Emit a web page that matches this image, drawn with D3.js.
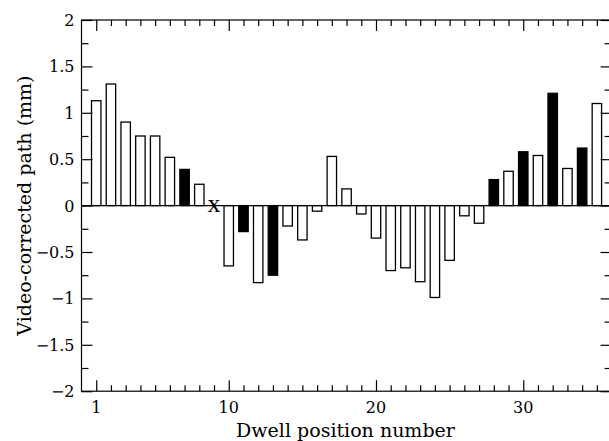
<!DOCTYPE html>
<html lang="en">
<head>
  <meta charset="UTF-8">
  <title>Video-corrected path</title>
  <style>
    body { margin: 0; background: #ffffff; }
    svg { display: block; }
    text { font-family: 'DejaVu Serif', serif; fill: #000; }
  </style>
  <script src="https://d3js.org/d3.v7.min.js"></script>
</head>
<body>
  <div id="chart"></div>
  <script>
    // dwell positions and measured path (mm); position 9 has no value (drawn as x)
    const positions = [1,2,3,4,5,6,7,8,9,10,11,12,13,14,15,16,17,18,19,20,21,22,23,24,25,26,27,28,29,30,31,32,33,34,35];
    const values = [1.13, 1.31, 0.90, 0.75, 0.75, 0.52, 0.39, 0.23, null, -0.65,
                    -0.28, -0.83, -0.75, -0.22, -0.37, -0.06, 0.53, 0.18, -0.09, -0.35,
                    -0.70, -0.67, -0.82, -0.99, -0.59, -0.11, -0.19, 0.28, 0.37, 0.58,
                    0.54, 1.21, 0.40, 0.62, 1.10];
    const filledPositions = [7, 11, 13, 28, 30, 32, 34];
    const missingPositions = [9];
    const xTickLabels = [1, 10, 20, 30];
    const yTickLabels = [2, 1.5, 1, 0.5, 0, -0.5, -1, -1.5, -2];

    const W = 609, H = 441;
    const M = { left: 81.5, right: -2.6, top: 20, bottom: 49.8 };

    const svg = d3.select('#chart').append('svg')
      .attr('width', W).attr('height', H);

    const x = d3.scaleLinear().domain([0, 36]).range([M.left, W - M.right]);
    const y = d3.scaleLinear().domain([-2, 2]).range([H - M.bottom, M.top]);

    const barW = 0.64 * (x(1) - x(0));
    const data = positions.map((p, i) => ({ p, v: values[i], filled: filledPositions.includes(p) }))
                          .filter(d => d.v !== null);

    // bars
    svg.append('g').selectAll('rect')
      .data(data).enter().append('rect')
      .attr('x', d => x(d.p) - barW / 2)
      .attr('width', barW)
      .attr('y', d => y(Math.max(0, d.v)))
      .attr('height', d => Math.abs(y(d.v) - y(0)))
      .attr('fill', d => d.filled ? '#000' : '#fff')
      .attr('stroke', '#000')
      .attr('stroke-width', 1.3);

    // zero line
    svg.append('line')
      .attr('x1', x(0)).attr('x2', x(36))
      .attr('y1', y(0)).attr('y2', y(0))
      .attr('stroke', '#000').attr('stroke-width', 1.3);

    // missing value marker
    svg.selectAll('.miss')
      .data(missingPositions).enter().append('text')
      .attr('class', 'miss')
      .attr('x', d => x(d))
      .attr('y', y(0) + 6.7)
      .attr('text-anchor', 'middle')
      .style('font-family', "'Liberation Serif', serif")
      .attr('font-size', 26)
      .text('x');

    // frame
    svg.append('rect')
      .attr('x', x(0)).attr('y', y(2))
      .attr('width', x(36) - x(0)).attr('height', y(-2) - y(2))
      .attr('fill', 'none').attr('stroke', '#000').attr('stroke-width', 1.2);

    const minorX = positions.filter(p => !xTickLabels.includes(p));
    const yMinor = d3.range(-1.75, 2, 0.5);
    const fmt = v => (v < 0 ? '\u2212' : '') + Math.abs(v);

    // axes: ticks drawn inward on all four sides
    const bottomAxis = (g, vals, len) => g.call(d3.axisBottom(x).tickValues(vals).tickSize(-len).tickFormat(''));
    const topAxis = (g, vals, len) => g.call(d3.axisTop(x).tickValues(vals).tickSize(-len).tickFormat(''));
    const leftAxis = (g, vals, len) => g.call(d3.axisLeft(y).tickValues(vals).tickSize(-len).tickFormat(''));
    const rightAxis = (g, vals, len) => g.call(d3.axisRight(y).tickValues(vals).tickSize(-len).tickFormat(''));

    const axes = svg.append('g');
    axes.append('g').attr('transform', `translate(0,${y(-2)})`).call(bottomAxis, xTickLabels, 11);
    axes.append('g').attr('transform', `translate(0,${y(-2)})`).call(bottomAxis, minorX, 6);
    axes.append('g').attr('transform', `translate(0,${y(2)})`).call(topAxis, xTickLabels, 11);
    axes.append('g').attr('transform', `translate(0,${y(2)})`).call(topAxis, minorX, 6);
    axes.append('g').attr('transform', `translate(${x(0)},0)`).call(leftAxis, yTickLabels, 11);
    axes.append('g').attr('transform', `translate(${x(0)},0)`).call(leftAxis, yMinor, 7);
    axes.append('g').attr('transform', `translate(${x(36)},0)`).call(rightAxis, yTickLabels, 11);
    axes.append('g').attr('transform', `translate(${x(36)},0)`).call(rightAxis, yMinor, 7);
    axes.selectAll('.domain').remove();
    axes.selectAll('.tick line').attr('stroke', '#000').attr('stroke-width', 1.2);

    // tick labels
    svg.append('g').selectAll('text')
      .data(xTickLabels).enter().append('text')
      .attr('x', d => x(d)).attr('y', 412.5)
      .attr('text-anchor', 'middle').attr('font-size', 16)
      .text(d => d);

    svg.append('g').selectAll('text')
      .data(yTickLabels).enter().append('text')
      .attr('x', 74.5).attr('y', d => y(d) + 6)
      .attr('text-anchor', 'end').attr('font-size', 16)
      .text(fmt);

    // axis titles
    svg.append('text')
      .attr('x', 345.5).attr('y', 436.5)
      .attr('text-anchor', 'middle').attr('font-size', 19)
      .text('Dwell position number');

    svg.append('text')
      .attr('transform', `translate(31,${(y(2) + y(-2)) / 2}) rotate(-90)`)
      .attr('text-anchor', 'middle').attr('font-size', 19)
      .text('Video-corrected path (mm)');
  </script>
</body>
</html>
